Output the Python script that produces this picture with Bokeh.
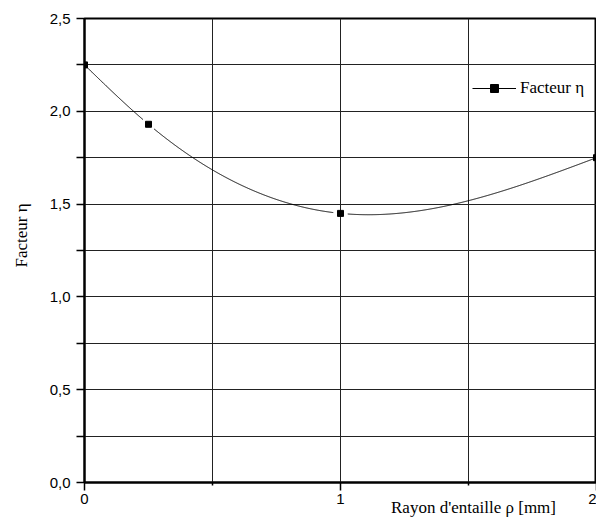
import numpy as np
from bokeh.plotting import figure
from bokeh.models import (FixedTicker, CustomJSTickFormatter, Legend, Label,
                          LegendItem, ColumnDataSource)
from bokeh.embed import file_html
from bokeh.resources import INLINE

# ---- data ----
radius_mm = [0.0, 0.25, 1.0, 2.0]
facteur_eta = [2.25, 1.93, 1.45, 1.75]
x_ticks = [0, 1, 2]
x_minor = [0.5, 1.5]
y_ticks = [0.0, 0.5, 1.0, 1.5, 2.0, 2.5]
y_minor = [0.25, 0.75, 1.25, 1.75, 2.25]
x_label = "Rayon d'entaille ρ [mm]"
y_label = "Facteur η"
series_name = "Facteur η"

W, H = 596, 525
ML, MR, MT, MB = 84, 0, 18, 43
FW, FH = W - ML - MR, H - MT - MB
X0, X1, Y0, Y1 = 0, 2, 0, 2.5


def natural_spline(xs, ys, xq):
    xs = np.asarray(xs, float)
    ys = np.asarray(ys, float)
    n = len(xs)
    h = np.diff(xs)
    A = np.zeros((n, n))
    r = np.zeros(n)
    A[0, 0] = 1
    A[-1, -1] = 1
    for i in range(1, n - 1):
        A[i, i - 1] = h[i - 1]
        A[i, i] = 2 * (h[i - 1] + h[i])
        A[i, i + 1] = h[i]
        r[i] = 6 * ((ys[i + 1] - ys[i]) / h[i] - (ys[i] - ys[i - 1]) / h[i - 1])
    M = np.linalg.solve(A, r)
    idx = np.clip(np.searchsorted(xs, xq) - 1, 0, n - 2)
    xa = xs[idx]
    xb = xs[idx + 1]
    hh = xb - xa
    a = (xb - xq) / hh
    b = (xq - xa) / hh
    return a * ys[idx] + b * ys[idx + 1] + ((a ** 3 - a) * M[idx] + (b ** 3 - b) * M[idx + 1]) * hh ** 2 / 6


xs = np.linspace(X0, X1, 1201)
ys = natural_spline(radius_mm, facteur_eta, xs)
# gap in the line around interior symbols (Origin style)
sx = FW / (X1 - X0)
sy = FH / (Y1 - Y0)
mask = np.zeros_like(xs, dtype=bool)
for xi, yi in zip(radius_mm[1:-1], facteur_eta[1:-1]):
    d = np.hypot((xs - xi) * sx, (ys - yi) * sy)
    mask |= d < 7
ys_line = ys.copy()
ys_line[mask] = np.nan

p = figure(width=W, height=H, x_range=(X0, X1), y_range=(Y0, Y1),
           output_backend="svg", toolbar_location=None,
           min_border_left=ML, min_border_right=MR,
           min_border_top=MT, min_border_bottom=MB,
           background_fill_color="white", border_fill_color="white")

p.outline_line_color = "black"
p.outline_line_width = 2

# axes
for ax in (p.xaxis[0], p.yaxis[0]):
    ax.axis_line_color = "black"
    ax.axis_line_width = 2
    ax.major_tick_line_color = "black"
    ax.minor_tick_line_color = "black"
    ax.major_tick_line_width = 1.5
    ax.minor_tick_line_width = 1.5
    ax.major_tick_in = 0
    ax.minor_tick_in = 0
    ax.major_label_text_font = "Liberation Sans"
    ax.major_label_text_font_size = "15px"
    ax.major_label_text_color = "black"

p.xaxis.ticker = FixedTicker(ticks=x_ticks, minor_ticks=x_minor)
p.xaxis.major_tick_out = 8
p.xaxis.minor_tick_out = 3
p.xaxis.major_label_standoff = 3
p.xaxis.formatter = CustomJSTickFormatter(code="return tick.toFixed(0);")

p.yaxis.ticker = FixedTicker(ticks=y_ticks, minor_ticks=y_minor)
p.yaxis.major_tick_out = 8
p.yaxis.minor_tick_out = 8
p.yaxis.major_label_standoff = 6
p.yaxis.formatter = CustomJSTickFormatter(code="return tick.toFixed(1).replace('.', ',');")

# grid
p.xgrid.ticker = FixedTicker(ticks=sorted(x_ticks + x_minor))
p.ygrid.ticker = FixedTicker(ticks=sorted(y_ticks + y_minor))
for g in (p.xgrid[0], p.ygrid[0]):
    g.grid_line_color = "#222222"
    g.grid_line_width = 1
    g.grid_line_alpha = 1

# data
line_src = ColumnDataSource(dict(x=xs, y=ys_line))
pt_src = ColumnDataSource(dict(x=radius_mm, y=facteur_eta))
r_line = p.line("x", "y", source=line_src, line_color="black", line_width=1)
r_pts = p.scatter("x", "y", source=pt_src, marker="square", size=6,
                  fill_color="black", line_color="black")

legend = Legend(items=[LegendItem(label=series_name, renderers=[r_line, r_pts])],
                location=(388, 384), glyph_width=44, glyph_height=20,
                label_standoff=4, padding=0, margin=0, spacing=0,
                border_line_alpha=0, background_fill_alpha=0,
                label_text_font="Liberation Serif", label_text_font_size="17px",
                label_text_color="black")
p.add_layout(legend)

# axis titles, placed as in the original (side panels: not clipped)
p.add_layout(Label(x=389, y=28, x_units="screen", y_units="screen",
                   text=x_label, text_align="center", text_baseline="top",
                   text_font="Liberation Serif", text_font_size="17px",
                   text_color="black"), "below")
p.add_layout(Label(x=-6, y=247, x_units="screen", y_units="screen",
                   text=y_label, angle=np.pi / 2, text_align="center",
                   text_baseline="middle",
                   text_font="Liberation Serif", text_font_size="17px",
                   text_color="black"), "left")

open("out.html", "w").write(file_html(p, INLINE))
